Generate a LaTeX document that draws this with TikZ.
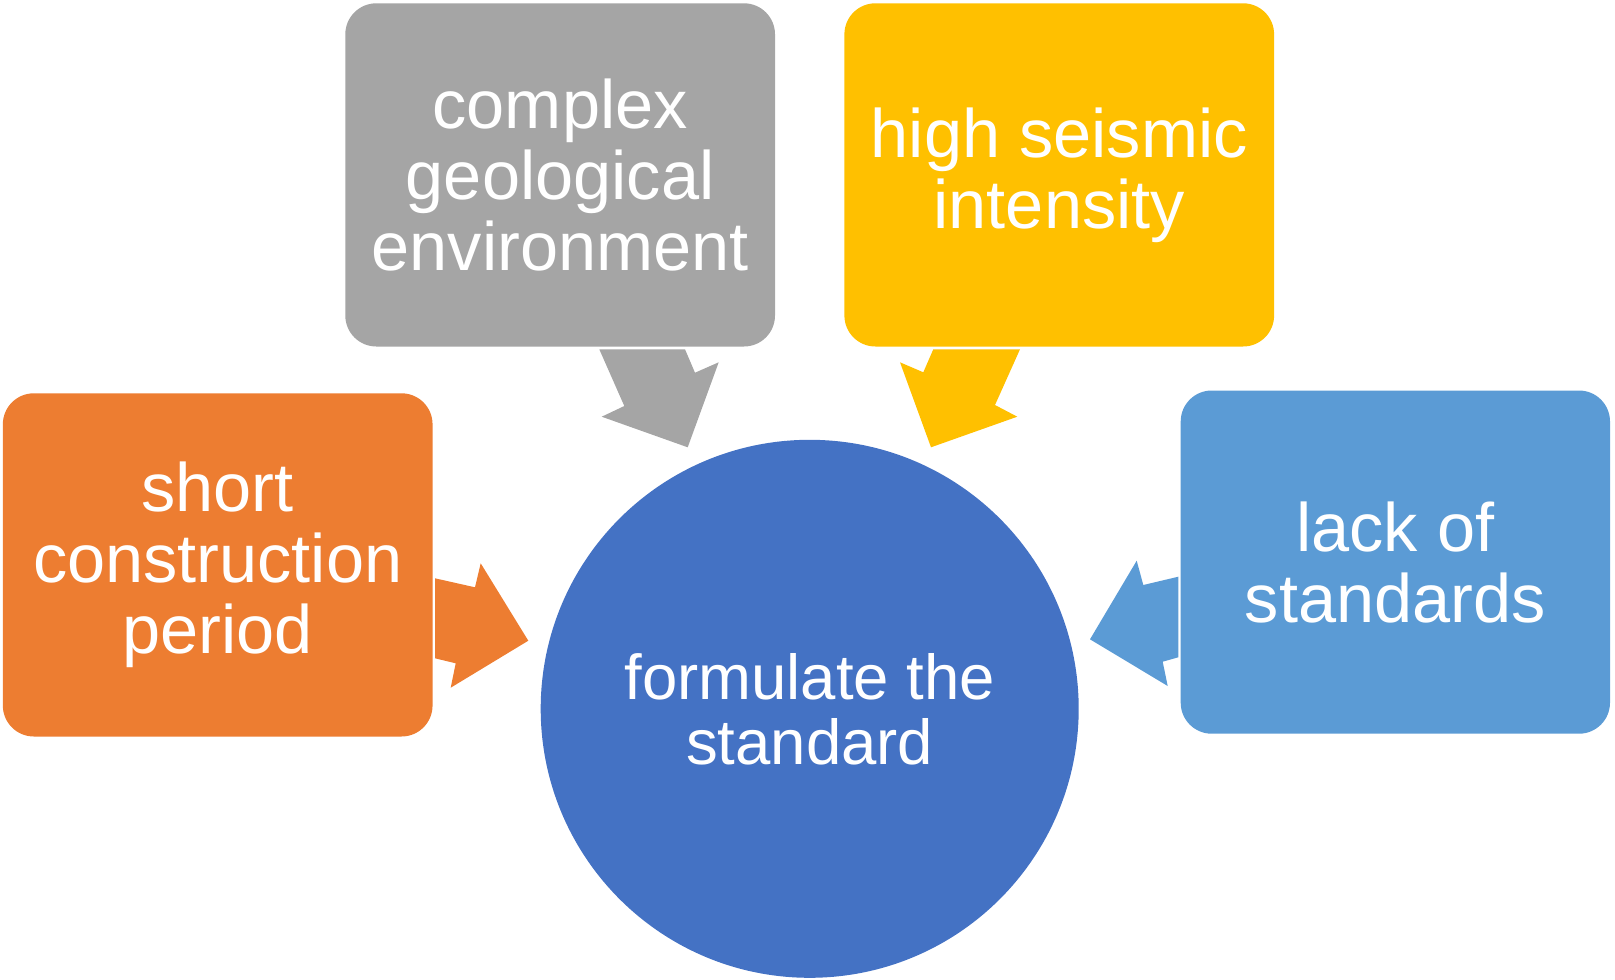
\documentclass[tikz,border=0pt]{standalone}
\usepackage{fontspec}
\setmainfont{Liberation Sans}
\definecolor{cgray}{HTML}{A5A5A5}
\definecolor{cyellow}{HTML}{FFC000}
\definecolor{corange}{HTML}{ED7D31}
\definecolor{clblue}{HTML}{5B9BD5}
\definecolor{cblue}{HTML}{4472C4}
\tikzset{
  box/.style={rounded corners=31pt, minimum width=429.7pt, minimum height=343.2pt,
    inner sep=0pt, align=center, text=white,
    font=\fontsize{68.5}{71}\selectfont},
  hub/.style={circle, minimum size=538pt, inner sep=0pt, align=center, text=white,
    fill=cblue, font=\fontsize{63.5}{65}\selectfont},
}
\begin{document}
\begin{tikzpicture}[x=1pt,y=-1pt]
\useasboundingbox (0,0) rectangle (1615,980);
\node[box, fill=cgray] (geo) at (560.15,174.9) {complex\\geological\\environment};
\node[box, fill=cyellow] (seis) at (1059.25,174.9) {high seismic\\intensity};
\node[box, fill=corange] (short) at (217.7,564.9) {short\\construction\\period};
\node[box, fill=clblue, minimum width=429.3pt] (lack) at (1395.35,562.1) {lack of\\standards};
\node[hub] (std) at (809.7,708.8) {formulate the\\standard};
% block arrows
\fill[cgray] (599.3,349.3) -- (685,349.3) -- (695,372.7) -- (718.7,362.3) -- (687.7,447.3) -- (601.7,416.7) -- (624.3,406) -- cycle;
\fill[cyellow] (933.3,349.3) -- (1020,349.3) -- (995,405) -- (1017.3,416.7) -- (931,447.3) -- (900,362.3) -- (923.3,372.3) -- cycle;
\fill[corange] (435,578.3) -- (475,587.3) -- (480.7,563.3) -- (528.3,640.7) -- (450.7,687.7) -- (455.7,663.3) -- (435,658.3) -- cycle;
\fill[clblue] (1178.3,576.7) -- (1143.3,585) -- (1136.7,560.7) -- (1090,639.3) -- (1167.7,686) -- (1162.7,661.7) -- (1178.3,657.3) -- cycle;
\end{tikzpicture}
\end{document}
